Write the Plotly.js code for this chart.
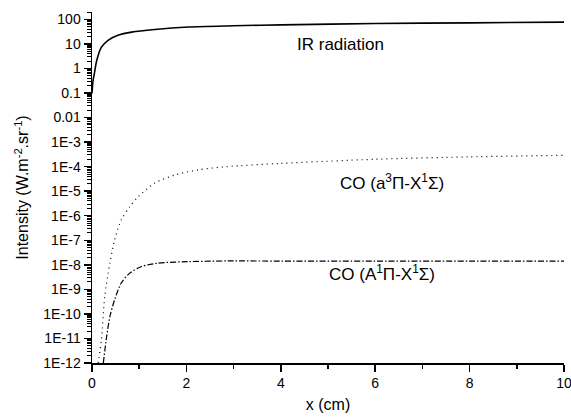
<!DOCTYPE html>
<html>
<head>
<meta charset="utf-8">
<script src="https://cdn.plot.ly/plotly-3.0.1.min.js"></script>
<style>html,body{margin:0;padding:0;background:#fff;}#chart{width:571px;height:417px;}</style>
</head>
<body>
<div id="chart"></div>
<script>
// IR radiation
const irX = [0.0, 0.02, 0.05, 0.10, 0.20, 0.34, 0.55, 0.84, 1.33, 2.04, 3.0, 4.0, 6.0, 8.0, 10.0];
const irY = [0.095, 0.3, 0.62, 2.1, 7.4, 14.1, 22.4, 30.2, 38.9, 49.0, 55.0, 60.0, 67.6, 72.4, 77.6];
// CO (a3Pi - X1Sigma), dotted
const coaX = [0.13, 0.20, 0.27, 0.38, 0.48, 0.62, 0.80, 0.98, 1.33, 1.76, 2.25, 2.85, 4.0, 6.0, 8.0, 10.0];
const coaY = [1e-12, 8.9e-12, 5.1e-10, 1.17e-8, 1.05e-7, 6.8e-7, 2.34e-6, 6.0e-6, 2.14e-5, 4.6e-5, 7.4e-5, 1.0e-4, 1.35e-4, 2.0e-4, 2.5e-4, 2.9e-4];
// CO (A1Pi - X1Sigma), dash-dot
const coAX = [0.24, 0.31, 0.38, 0.48, 0.62, 0.80, 1.05, 1.40, 2.04, 2.89, 4.0, 6.0, 8.0, 10.0];
const coAY = [1e-12, 1.2e-11, 7.9e-11, 3.8e-10, 1.82e-9, 4.6e-9, 8.5e-9, 1.17e-8, 1.35e-8, 1.44e-8, 1.42e-8, 1.42e-8, 1.42e-8, 1.42e-8];

const yTickVals = [100, 10, 1, 0.1, 0.01, 1e-3, 1e-4, 1e-5, 1e-6, 1e-7, 1e-8, 1e-9, 1e-10, 1e-11, 1e-12];
const yTickText = ["100", "10", "1", "0.1", "0.01", "1E-3", "1E-4", "1E-5", "1E-6", "1E-7", "1E-8", "1E-9", "1E-10", "1E-11", "1E-12"];
const xMinorVals = [1, 3, 5, 7, 9];
const curveLabels = ["IR radiation", "CO (a<sup>3</sup>Π-X<sup>1</sup>Σ)", "CO (A<sup>1</sup>Π-X<sup>1</sup>Σ)"];
const labelX = [4.3, 5.22, 4.98];
const labelY = [9.6, 2.4e-5, 4.8e-9];

// minor tick positions on the log axis: 2..9 times each decade
const yMinor = [];
for (let e = -12; e <= 2; e++) for (let m = 2; m <= 9; m++) { const v = m * Math.pow(10, e); if (v <= 200) yMinor.push(v); }

const F = "Arial, 'Liberation Sans', Helvetica, sans-serif";
const traces = [
  {x: irX, y: irY, mode: 'lines', line: {color: '#000', width: 1.6, shape: 'spline', smoothing: 0.8}},
  {x: coaX, y: coaY, mode: 'lines', line: {color: '#000', width: 1.2, dash: '1px,4px', shape: 'spline', smoothing: 0.8}},
  {x: coAX, y: coAY, mode: 'lines', line: {color: '#000', width: 1.2, dash: '6px,2px,1.5px,2px', shape: 'spline', smoothing: 0.8}}
];
const annotations = curveLabels.map((t, i) => ({
  x: labelX[i], y: Math.log10(labelY[i]), xref: 'x', yref: 'y', text: t, showarrow: false,
  xanchor: 'left', yanchor: 'middle', font: {family: F, size: 17, color: '#000'}
}));
const yRange = [-12, Math.log10(200)];
const layout = {
  width: 571, height: 417,
  margin: {l: 92, r: 7, t: 12, b: 54},
  paper_bgcolor: '#fff', plot_bgcolor: '#fff',
  showlegend: false,
  font: {family: F, color: '#000'},
  xaxis: {
    range: [0, 10], tickmode: 'linear', tick0: 0, dtick: 2, ticks: 'outside', ticklen: 7, tickwidth: 1.5,
    tickcolor: '#000', showgrid: false, zeroline: false, showline: true, linecolor: '#000', linewidth: 1.5,
    tickfont: {family: F, size: 14, color: '#000'}, ticklabeloverflow: 'allow',
    title: {text: 'x (cm)', font: {family: F, size: 16, color: '#000'}, standoff: 8}
  },
  xaxis2: {
    range: [0, 10], overlaying: 'x', side: 'bottom', anchor: 'y', tickmode: 'array', tickvals: xMinorVals,
    ticks: 'outside', ticklen: 4.5, tickwidth: 1.5, tickcolor: '#000', showticklabels: false,
    showgrid: false, zeroline: false, showline: false
  },
  yaxis: {
    type: 'log', range: yRange, tickmode: 'array', tickvals: yTickVals, ticktext: yTickText,
    ticks: 'outside', ticklen: 7, tickwidth: 1.5, tickcolor: '#000', showgrid: false, zeroline: false,
    showline: true, linecolor: '#000', linewidth: 1.5,
    tickfont: {family: F, size: 14, color: '#000'}, ticklabeloverflow: 'allow',
    title: {text: 'Intensity (W.m<sup>-2</sup>.sr<sup>-1</sup>)', font: {family: F, size: 16, color: '#000'}, standoff: 10}
  },
  yaxis2: {
    type: 'log', range: yRange, overlaying: 'y', side: 'left', anchor: 'x', tickmode: 'array', tickvals: yMinor,
    ticks: 'outside', ticklen: 4.5, tickwidth: 1, tickcolor: '#000', showticklabels: false,
    showgrid: false, zeroline: false, showline: false
  },
  annotations: annotations
};
// invisible trace to activate the minor-tick overlay axes
traces.push({x: [irX[irX.length - 1]], y: [irY[irY.length - 1]], xaxis: 'x2', yaxis: 'y2', mode: 'markers', marker: {opacity: 0}, hoverinfo: 'skip'});
Plotly.newPlot('chart', traces, layout, {staticPlot: true, displayModeBar: false});
</script>
</body>
</html>
